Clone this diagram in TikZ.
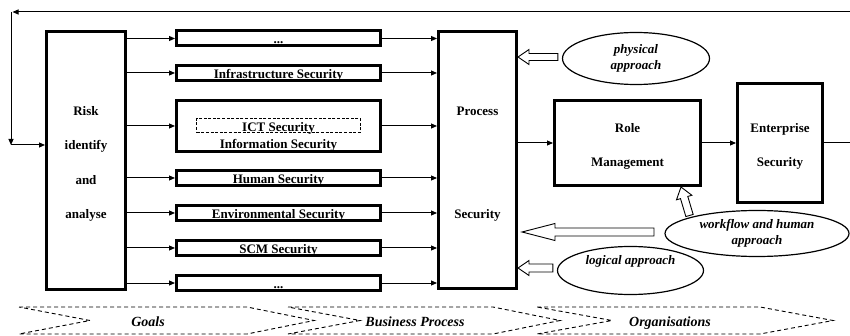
\documentclass[tikz,border=0pt]{standalone}
\usepackage{fontspec}
\setmainfont{Liberation Serif}
\usetikzlibrary{arrows.meta,calc,shapes.geometric}

% hollow block arrow: tail, tip, half shaft width, half head width, head length
\newcommand\hollowarrow[5]{%
  \coordinate (ha-h) at ($(#2)!#5!(#1)$);
  \draw[hollow] ($(#1)!#3!90:(#2)$) -- ($(ha-h)!#3!-90:(#1)$) -- ($(ha-h)!#4!-90:(#1)$)
    -- (#2) -- ($(ha-h)!#4!90:(#1)$) -- ($(ha-h)!#3!90:(#1)$) -- ($(#1)!#3!-90:(#2)$) -- cycle;}
% raises the top of a multi-line label so its lines sit a little lower
\newcommand\toppad{\rule{0pt}{16pt}}

\begin{document}
\begin{tikzpicture}[x=1pt,y=-1pt,
  every node/.style={font=\fontsize{13}{15.6}\selectfont\bfseries},
  frame/.style={draw,line width=3pt,rectangle,inner sep=0pt,align=center},
  secbox/.style={draw,line width=3pt,rectangle,inner sep=0pt,minimum width=204pt,
    minimum height=15pt,text height=11pt,text depth=0pt},
  dashbox/.style={draw,line width=1.4pt,dash pattern=on 3pt off 1.6pt,inner sep=0pt,
    minimum width=163.5pt,minimum height=14pt},
  approach/.style={ellipse,draw,line width=1.2pt,inner sep=0pt,align=center,
    font=\fontsize{13}{15.6}\selectfont\bfseries\itshape},
  link/.style={line width=1pt,-{Triangle[length=6pt,width=5pt]}},
  plain/.style={line width=1pt},
  hollow/.style={draw,line width=0.9pt,fill=white,line join=miter},
  phase/.style={draw,line width=0.9pt,dash pattern=on 4pt off 3pt},
  phaselabel/.style={anchor=base,font=\fontsize{14}{16}\selectfont\bfseries\itshape}]

\useasboundingbox (0,0) rectangle (850,336);
\fill[white] (0,0) rectangle (850,336);

% risk analysis
\node[frame,minimum width=79pt,minimum height=258pt] (risk) at (86,160.5)
  {\toppad Risk\\[18.9pt]identify\\[18.9pt]and\\[18.9pt]analyse};

% security domains
\node[secbox] (s1) at (278.5,38.5) {...};
\node[secbox] (s2) at (278.5,73) {Infrastructure Security};
\node[secbox,minimum height=51pt] (s3) at (278.5,126) {};
\node[secbox] (s4) at (278.5,178) {Human Security};
\node[secbox] (s5) at (278.5,213) {Environmental Security};
\node[secbox] (s6) at (278.5,248) {SCM Security};
\node[secbox] (s7) at (278.5,283) {...};
\node[dashbox] (ict) at (278.5,125.5) {};
\node[anchor=base] (ictlabel) at (278.5,131.5) {ICT Security};
\node[anchor=base] (infolabel) at (278.5,149) {Information Security};

% process, role and enterprise levels
\node[frame,minimum width=78pt,minimum height=257pt] (proc) at (477.5,160)
  {\toppad Process\\[87.4pt]Security};
\node[frame,minimum width=146pt,minimum height=85pt] (role) at (627.5,143)
  {\toppad Role\\[18.4pt]Management};
\node[frame,minimum width=85pt,minimum height=119pt] (ent) at (780,143)
  {\toppad Enterprise\\[18.4pt]Security};

\foreach \i in {1,...,7} {
  \draw[link] (risk.east |- s\i.west) -- (s\i.west);
  \draw[link] (s\i.east) -- (proc.west |- s\i.east);
}
\draw[link] (proc.east |- role.west) -- (role.west);
\draw[link] (role.east) -- (ent.west);

% feedback loop
\coordinate (fbE) at (856,143);
\coordinate (fbNE) at (856,12);
\coordinate (fbNW) at (11,12);
\coordinate (fbSW) at (11,145);
\draw[plain] (ent.east) -- (fbE) -- (fbNE);
\draw[link,shorten >=1.5pt] (fbNE) -- (fbNW);
\draw[link] (fbNW) -- (fbSW);
\draw[link] (fbSW) -- (risk.west |- fbSW);

% approaches
\node[approach,minimum width=147pt,minimum height=52pt] (phys) at (636,58.5) {physical\\approach};
\node[approach,minimum width=184pt,minimum height=46pt] (wf) at (757,233.5) {workflow and human\\approach};
\node[approach,minimum width=146pt,minimum height=48pt,text height=9pt,text depth=21pt] (logi)
  at (630.5,270.5) {logical approach};

\coordinate (physTail) at ($(phys.west)+(-4,-1.5)$);
\coordinate (physTip) at (proc.east |- physTail);
\hollowarrow{physTail}{physTip}{3.5pt}{7.5pt}{11pt}
\coordinate (bigTail) at (654,232);
\coordinate (bigTip) at ($(proc.east |- bigTail)+(4,0)$);
\hollowarrow{bigTail}{bigTip}{4pt}{8.5pt}{33pt}
\coordinate (logTail) at ($(logi.west)+(-4,-2.5)$);
\coordinate (logTip) at (proc.east |- logTail);
\hollowarrow{logTail}{logTip}{4pt}{7.5pt}{11pt}
\coordinate (wfTail) at (689.5,215.5);
\coordinate (wfTip) at ($(role.south east)+(-21,0)$);
\hollowarrow{wfTail}{wfTip}{3.8pt}{8pt}{11pt}

% phases
\draw[phase] (19,307) -- (247,307) -- (314,320.5) -- (247,334) -- (19,334) -- (90,320.5) -- cycle;
\draw[phase] (288,307) -- (493,307) -- (560,320.5) -- (493,334) -- (288,334) -- (360,320.5) -- cycle;
\draw[phase] (537,307) -- (760,307) -- (833,320.5) -- (760,334) -- (537,334) -- (612,320.5) -- cycle;
\node[phaselabel] (goals) at (148,326) {Goals};
\node[phaselabel] (bproc) at (415,326) {Business Process};
\node[phaselabel] (orgs) at (670,326) {Organisations};
\end{tikzpicture}
\end{document}
